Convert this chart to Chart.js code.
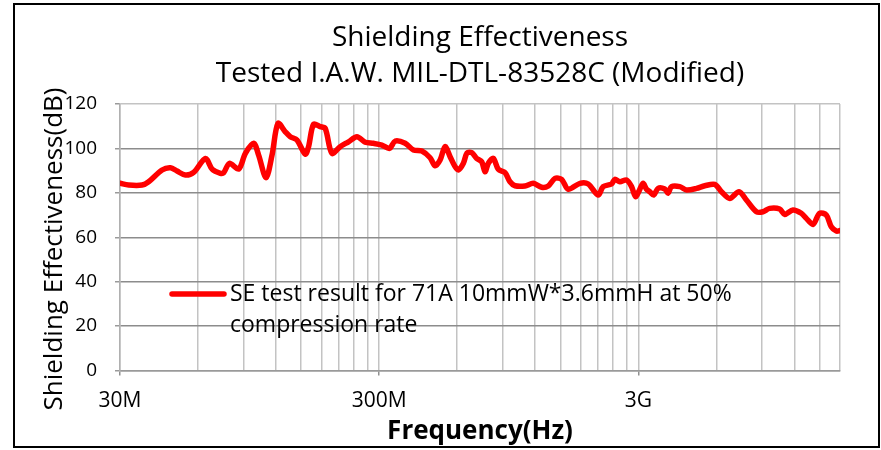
<!DOCTYPE html>
<html>
<head>
<meta charset="utf-8">
<script src="https://cdn.jsdelivr.net/npm/chart.js@4/dist/chart.umd.min.js"></script>
<style>
  html, body { margin: 0; padding: 0; background: #fff; }
  #wrap { position: relative; width: 881px; height: 450px; }
</style>
</head>
<body>
<div id="wrap"><canvas id="chart"></canvas></div>
<script>
// Frequency in MHz, shielding effectiveness in dB
const freqMHz = [30, 32.4, 36.5, 38.7, 43.6, 47.0, 49.8, 53.6, 57.7, 64.1,
  68.0, 73.2, 75.4, 79.3, 86.1, 91.4, 98.4, 102.8, 109.8, 115.8,
  122.1, 130.3, 136.2, 144.5, 155.6, 160.2, 167.5, 177.7, 185.8, 197.1,
  212.2, 228.5, 246.2, 265.0, 285.2, 307.3, 328.8, 345.9, 378.0, 406.9,
  438.3, 471.7, 493.1, 515.5, 538.9, 563.4, 589.0, 606.4, 634.0, 655.0,
  682.8, 713.8, 746.2, 768.6, 791.4, 827.2, 864.7, 917.8, 959.5, 1003,
  1096, 1180, 1271, 1348, 1430, 1517, 1609, 1786, 1922, 2100,
  2195, 2365, 2436, 2546, 2702, 2825, 2926, 3040, 3131, 3226,
  3322, 3441, 3576, 3795, 3908, 4028, 4335, 4603, 5029, 5416,
  5917, 6280, 6759, 7339, 7836, 8566, 9079, 9632, 10531, 11006,
  11850, 12767, 13347, 14150, 15018, 15936, 16660, 17415, 18000];

const seDb = [84.3, 83.5, 83.5, 85.0, 90.3, 91.3, 89.8, 88.0, 89.2, 95.5,
  90.7, 88.8, 89.1, 93.3, 90.7, 97.8, 102.3, 97.0, 86.8, 97.0,
  111.3, 107.5, 105.3, 103.8, 97.4, 100.8, 110.9, 109.8, 109.0, 97.8,
  100.8, 103.0, 105.3, 102.8, 102.3, 101.5, 100.0, 103.3, 102.3, 99.3,
  98.8, 95.8, 92.2, 94.8, 100.8, 96.3, 91.8, 90.3, 93.3, 98.0,
  98.1, 95.5, 94.0, 89.5, 93.3, 95.5, 90.6, 89.1, 85.0, 83.2,
  83.1, 84.3, 82.5, 83.1, 86.5, 86.1, 81.6, 84.3, 84.0, 79.0,
  82.8, 84.0, 86.1, 85.0, 85.8, 82.8, 78.3, 81.6, 84.3, 81.6,
  80.5, 79.0, 82.0, 81.7, 79.8, 82.8, 82.8, 81.3, 82.0, 83.2,
  83.8, 80.5, 77.5, 80.5, 76.8, 71.5, 71.5, 73.0, 72.7, 70.3,
  72.3, 70.8, 68.5, 65.8, 70.8, 70.0, 64.7, 62.8, 63.0];

// x axis: labelled ticks and all gridline positions (MHz)
const xTickValues = [30, 300, 3000];
const xTickLabels = ['30M', '300M', '3G'];
const xGridValues = [30, 60, 90, 120, 150, 180, 210, 240, 270,
  300, 600, 900, 1200, 1500, 1800, 2100, 2400, 2700,
  3000, 6000, 9000, 12000, 15000, 18000];

const titleLines = ['Shielding Effectiveness', 'Tested I.A.W. MIL-DTL-83528C (Modified)'];
const yTitle = 'Shielding Effectiveness(dB)';
const xTitle = 'Frequency(Hz)';
const legendLines = ['SE test result for 71A 10mmW*3.6mmH at 50%', 'compression rate'];

const FONT = "'Open Sans', 'Noto Sans', sans-serif";

// frame, rotated y title and the two-line legend
const extras = {
  id: 'extras',
  beforeDraw(chart) {
    const ctx = chart.ctx;
    ctx.save();
    ctx.fillStyle = '#fff';
    ctx.fillRect(0, 0, chart.width, chart.height);
    ctx.restore();
  },
  afterDraw(chart) {
    const ctx = chart.ctx;
    ctx.save();
    ctx.strokeStyle = '#000';
    ctx.lineWidth = 2;
    ctx.strokeRect(14, 4, 865, 443);

    ctx.fillStyle = '#000';
    ctx.font = '26px ' + FONT;
    ctx.translate(62, 249);
    ctx.rotate(-Math.PI / 2);
    ctx.textAlign = 'center';
    ctx.textBaseline = 'alphabetic';
    ctx.fillText(yTitle, 0, 0);
    ctx.restore();

    const ds = chart.data.datasets[0];
    ctx.save();
    ctx.strokeStyle = ds.borderColor;
    ctx.lineWidth = 5.5;
    ctx.lineCap = 'round';
    ctx.beginPath();
    ctx.moveTo(172, 294);
    ctx.lineTo(224, 294);
    ctx.stroke();
    ctx.fillStyle = '#000';
    ctx.font = '23px ' + FONT;
    ctx.textAlign = 'left';
    ctx.textBaseline = 'middle';
    legendLines.forEach((t, i) => ctx.fillText(t, 230, 294 + i * 31));
    ctx.restore();
  }
};

new Chart(document.getElementById('chart'), {
  type: 'line',
  data: {
    datasets: [{
      label: legendLines.join(' '),
      data: freqMHz.map((f, i) => ({ x: f, y: seDb[i] })),
      borderColor: '#ff0000',
      borderWidth: 5.5,
      pointRadius: 0,
      tension: 0.3,
      borderJoinStyle: 'round',
      borderCapStyle: 'round',
      fill: false
    }]
  },
  options: {
    responsive: true,
    maintainAspectRatio: false,
    animation: false,
    layout: { padding: { left: 0, right: 41, top: 0, bottom: 0 } },
    plugins: {
      legend: { display: false },
      tooltip: { enabled: false },
      title: {
        display: true,
        fullSize: false,
        text: titleLines,
        color: '#000',
        font: { family: FONT, size: 28, weight: 'normal', lineHeight: 1.286 },
        padding: { top: 20, bottom: 12 }
      }
    },
    scales: {
      x: {
        type: 'logarithmic',
        min: 30,
        max: 18000,
        afterFit: (scale) => { scale.height = 79.5; },
        afterBuildTicks: (scale) => {
          scale.ticks = xGridValues.map(v => ({ value: v }));
        },
        ticks: {
          autoSkip: false,
          maxRotation: 0,
          padding: 13,
          color: '#000',
          font: { family: FONT, size: 21 },
          callback: (value) => {
            const i = xTickValues.indexOf(value);
            return i >= 0 ? xTickLabels[i] : '';
          }
        },
        grid: {
          color: '#c3c3c3',
          lineWidth: 1.5,
          tickLength: 5,
          tickColor: (c) => xTickValues.includes(c.tick && c.tick.value) ? '#909090' : 'rgba(0,0,0,0)'
        },
        border: { display: true, color: '#9a9a9a', width: 1.5 },
        title: {
          display: true,
          text: xTitle,
          color: '#000',
          font: { family: FONT, size: 26, weight: 'bold' },
          padding: { top: 0, bottom: 3 }
        }
      },
      y: {
        min: 0,
        max: 120,
        afterFit: (scale) => { scale.width = 120; },
        ticks: {
          stepSize: 20,
          padding: 18,
          color: '#000',
          font: { family: FONT, size: 19 }
        },
        grid: {
          color: (c) => c.tick.value === 120 ? '#c3c3c3' : (c.tick.value === 0 ? '#9a9a9a' : '#8c8c8c'),
          lineWidth: 1.5,
          tickLength: 5,
          tickColor: '#9a9a9a'
        },
        border: { display: true, color: '#b0b0b0', width: 1.5 }
      }
    }
  },
  plugins: [extras]
});
</script>
</body>
</html>
